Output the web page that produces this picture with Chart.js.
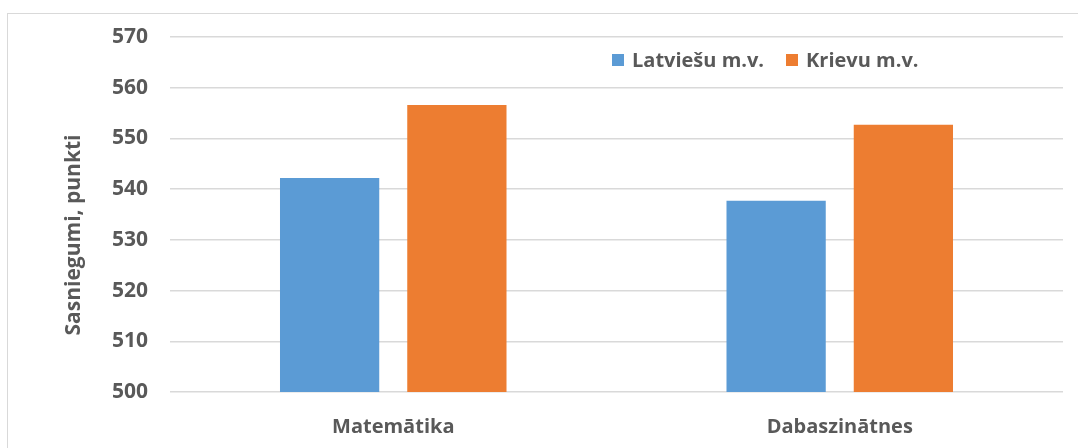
<!DOCTYPE html>
<html>
<head>
    <meta charset="utf-8">
    <title>Sasniegumi</title>
    <script src="https://cdn.jsdelivr.net/npm/chart.js"></script>
    <style>
        html, body { margin: 0; padding: 0; background: #fff; }
        #wrap { position: relative; width: 1078px; height: 448px; overflow: hidden; }
        #frame { position: absolute; left: 7px; top: 13px; width: 1100px; height: 460px; border: 1.5px solid #d9d9d9; box-sizing: border-box; }
        #legend { position: absolute; top: 46px; left: 612px; font: bold 20px "Open Sans", sans-serif; color: #595959; white-space: nowrap; }
        #legend span.box { display: inline-block; width: 12px; height: 12px; margin-right: 8px; vertical-align: 1px; }
        #legend span.item { margin-right: 22px; }
        #ytitle { position: absolute; left: 72px; top: 235px; transform: translate(-50%, -50%) rotate(-90deg); font: bold 21px "Open Sans", sans-serif; color: #595959; white-space: nowrap; }
    </style>
</head>
<body>
    <div id="wrap">
        <div id="frame"></div>
        <canvas id="chart" width="1078" height="448"></canvas>
        <div id="legend"></div>
        <div id="ytitle"></div>
    </div>
    <script>
        // data
        const categories = ['Matemātika', 'Dabaszinātnes'];
        const latviesuValues = [542.2, 537.7];
        const krievuValues = [556.6, 552.7];
        const seriesNames = ['Latviešu m.v.', 'Krievu m.v.'];
        const seriesColors = ['#5b9bd5', '#ed7d31'];
        const yTitle = 'Sasniegumi, punkti';

        const fontFamily = '"Open Sans", sans-serif';
        const textColor = '#595959';

        // html legend placed inside the plot like the original
        document.getElementById('legend').innerHTML = seriesNames.map((name, i) =>
            '<span class="item"><span class="box" style="background:' + seriesColors[i] + '"></span>' + name + '</span>'
        ).join('');
        // axis title sits a bit below the middle in the original, so it is placed by hand
        document.getElementById('ytitle').textContent = yTitle;

        const ctx = document.getElementById('chart').getContext('2d');
        new Chart(ctx, {
            type: 'bar',
            data: {
                labels: categories,
                datasets: [
                    { label: seriesNames[0], data: latviesuValues, backgroundColor: seriesColors[0] },
                    { label: seriesNames[1], data: krievuValues, backgroundColor: seriesColors[1] },
                ],
            },
            options: {
                responsive: false,
                animation: false,
                categoryPercentage: 0.57,
                barPercentage: 0.78,
                layout: { padding: { left: 0, right: 15, top: 37, bottom: 0 } },
                plugins: {
                    legend: { display: false },
                    tooltip: { enabled: false },
                },
                scales: {
                    x: {
                        grid: { display: false },
                        border: { display: false },
                        ticks: { color: textColor, font: { family: fontFamily, size: 20, weight: 'bold' }, padding: 15 },
                        afterFit: s => { s.height = 56; },
                    },
                    y: {
                        min: 500,
                        max: 570,
                        ticks: { stepSize: 10, color: textColor, font: { family: fontFamily, size: 21, weight: 'bold' }, padding: 22 },
                        grid: { color: '#d9d9d9', lineWidth: 1.5, drawTicks: false },
                        border: { display: false },
                        afterFit: s => { s.width = 170; },
                    },
                },
            },
        });
    </script>
</body>
</html>
